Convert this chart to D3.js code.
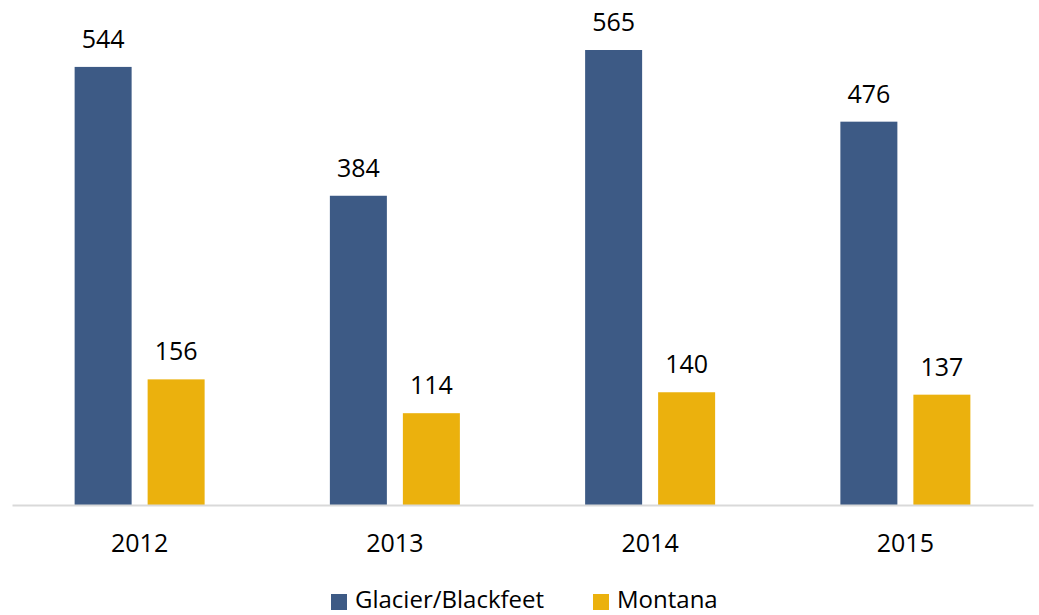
<!DOCTYPE html>
<html><head><meta charset="utf-8">
<script src="https://cdn.jsdelivr.net/npm/d3@7"></script>
<style>body{margin:0;background:#fff}svg{display:block}text{font-family:"Open Sans",sans-serif;fill:#000}</style>
</head><body>
<svg id="c" width="1039" height="615"></svg>
<script>
const categories = ["2012","2013","2014","2015"];
const seriesNames = ["Glacier/Blackfeet","Montana"];
const glacier = [544,384,565,476];
const montana = [156,114,140,137];
const colors = ["#3d5a85","#ebb10d"];

const svg = d3.select("#c");
const left = 12, right = 1033, baseY = 505, topY = 50;
const x = d3.scaleBand().domain(categories).range([left,right]).padding(0);
const y = d3.scaleLinear().domain([0,565]).range([baseY, topY]);
const sub = d3.scaleBand().domain(seriesNames).range([0,130]).paddingInner(16/73);
const series = [glacier, montana];

const g = svg.append("g");
series.forEach((vals,si)=>{
  categories.forEach((c,i)=>{
    const x0 = x(c) + x.bandwidth()/2 - 65 + sub(seriesNames[si]);
    g.append("rect").attr("x",x0).attr("y",y(vals[i])).attr("width",sub.bandwidth())
      .attr("height",baseY - y(vals[i])).attr("fill",colors[si]);
    g.append("text").attr("x",x0+sub.bandwidth()/2).attr("y",y(vals[i])-19)
      .attr("text-anchor","middle").attr("font-size",25).text(vals[i]);
  });
});

const axis = d3.axisBottom(x).tickSize(0).tickPadding(0);
const ax = svg.append("g").attr("transform",`translate(0,${baseY})`).call(axis);
ax.select(".domain").attr("stroke","#d9d9d9").attr("stroke-width",2);
ax.selectAll(".tick text").attr("font-size",25).attr("font-family","Open Sans").attr("fill","#000")
  .attr("dy",null).attr("y",47);

const leg = svg.append("g");
const legX = [331, 593];
seriesNames.forEach((n,i)=>{
  leg.append("rect").attr("x",legX[i]).attr("y",594).attr("width",16).attr("height",16).attr("fill",colors[i]);
  leg.append("text").attr("x",legX[i]+24).attr("y",608).attr("font-size",24).text(n);
});
</script>
</body></html>
